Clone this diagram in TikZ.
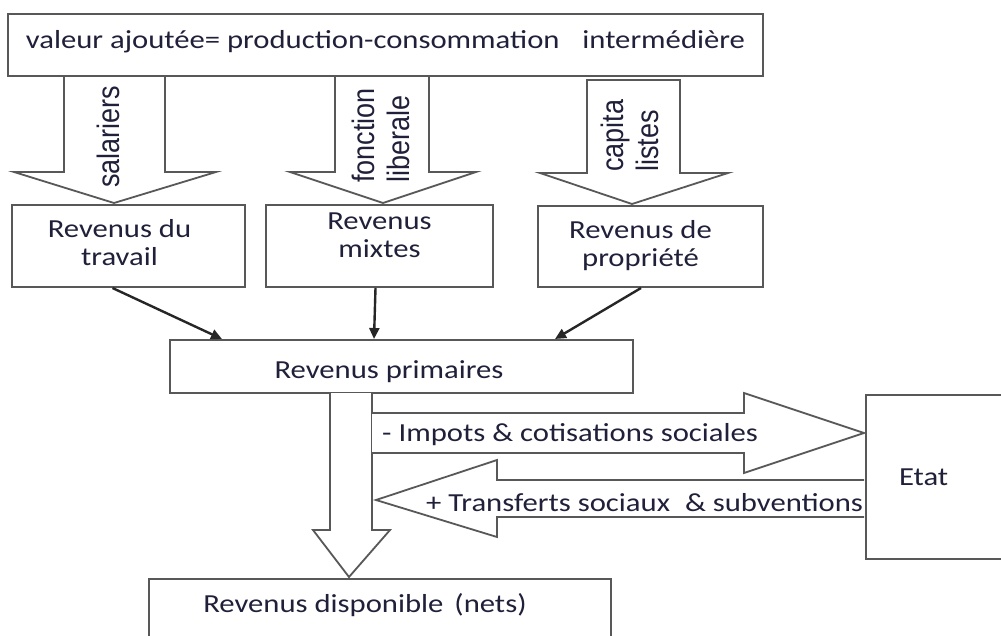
\documentclass[tikz,border=0pt]{standalone}
\usepackage{fontspec}
\setmainfont{Carlito}[FakeStretch=1.18]
\newfontfamily\arialf{Liberation Sans}
\usetikzlibrary{arrows.meta,calc}
\definecolor{txt}{RGB}{32,32,58}
\definecolor{edge}{RGB}{88,88,88}
\newcommand\cellx[3]{\raisebox{#1}[\height][\depth]{\begin{tabular}{@{}c@{\hspace*{#2}}}#3\end{tabular}}}
\newcommand\vstr[1]{\scalebox{1}[1.15]{#1}}
\begin{document}
\begin{tikzpicture}[x=1pt,y=-1pt,
  box/.style={draw=edge, line width=2pt, fill=white, text=txt, inner sep=0pt, font=\fontsize{26}{28}\selectfont},
  blk/.style={draw=edge, line width=1.8pt, fill=white, line join=miter},
  conn/.style={draw=black!85, line width=2.4pt, -{Triangle[length=11pt,width=10pt]}},
  vlab/.style={rotate=90, text=txt, font=\arialf\fontsize{27}{35}\selectfont, align=left, inner sep=0pt, anchor=west},
  lab/.style={text=txt, font=\fontsize{26}{28}\selectfont, inner sep=0pt, anchor=west}]
\useasboundingbox (0,0) rectangle (1001,635);
\clip (0,0) rectangle (1001,635);

% downward block arrows (top row)
\draw[blk] (64,76) -- (64,172) -- (14,172) -- (114,203) -- (216,172) -- (165,172) -- (165,76);
\draw[blk] (335,76) -- (335,172) -- (290,172) -- (383,203) -- (476,172) -- (429,172) -- (429,76);
\draw[blk] (587,80) -- (587,173) -- (540,173) -- (632,204) -- (728,173) -- (680,173) -- (680,80) -- cycle;

% top box
\node[box, minimum width=755pt, minimum height=62pt] (top) at (385.5,45)
  {\raisebox{3pt}[\height][\depth]{valeur ajoutée= production-consommation\hspace*{16pt} intermédière}};

% rotated labels
\node[vlab] (sal) at (108,188) {\vstr{salariers}};
\node[vlab] (fl) at (381,183) {\vstr{fonction}\\\vstr{liberale}};
\node[vlab] (cl) at (630,172) {\vstr{capita}\\\vstr{listes}};

% second row boxes
\node[box, minimum width=233pt, minimum height=82pt] (trav) at (128.5,246) {\cellx{0pt}{18pt}{Revenus du\\travail}};
\node[box, minimum width=227pt, minimum height=82pt] (mix) at (379.5,246) {\cellx{8pt}{0pt}{Revenus\\mixtes}};
\node[box, minimum width=225pt, minimum height=81pt] (prop) at (650.5,246.5) {\cellx{0pt}{20pt}{Revenus de\\propriété}};

% primary incomes
\node[box, minimum width=463pt, minimum height=53pt] (prim) at (401.5,366.5)
  {\raisebox{-5pt}[\height][\depth]{Revenus primaires\hspace*{25pt}}};

\draw[conn] ($(trav.south)+(-16,0)$) -- ($(prim.north west)+(53,0)$);
\draw[conn] ($(mix.south)+(-4,0)$) -- ($(prim.north west)+(205,0)$);
\draw[conn] ($(prop.south)+(-9.5,0)$) -- ($(prim.north west)+(386,0)$);

% lower block arrows
\draw[blk] (330,393) -- (330,530) -- (313,530) -- (349,577) -- (390,530) -- (372,530) -- (372,393);
\draw[blk] (372,413) -- (744,413) -- (744,393) -- (864,433) -- (744,473) -- (744,453) -- (372,453);
\draw[blk] (864,480) -- (497,480) -- (497,460) -- (376,500) -- (497,537) -- (497,517) -- (864,517);

% Etat
\node[box, anchor=north west, minimum width=150pt, minimum height=164pt, text width=84pt, inner xsep=33pt, align=left] (etat) at (865,394) {Etat};

% disposable income
\node[box, anchor=north west, minimum width=462pt, text height=28pt, text depth=45pt, inner ysep=5pt] (disp) at (148,578)
  {Revenus disponible\hspace*{4pt} (nets)\hspace*{30pt}};

% labels in block arrows
\node[lab] (imp) at (382,435) {- Impots \& cotisations sociales};
\node[lab] (tra) at (426,503) {+ Transferts sociaux\hspace*{8pt} \& subventions};
\end{tikzpicture}
\end{document}
